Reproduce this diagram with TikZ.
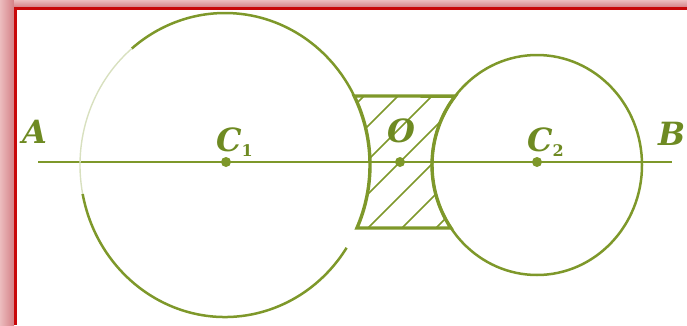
\documentclass[tikz,border=0pt]{standalone}
\usepackage{fontspec}
\newfontfamily\labfont{DejaVu Serif}
\definecolor{ol}{RGB}{126,152,42}
\definecolor{oltext}{RGB}{110,138,34}
\definecolor{pinkdark}{RGB}{212,128,134}
\definecolor{pinklight}{RGB}{236,188,190}
\definecolor{framered}{RGB}{200,8,10}
\newcommand{\mysub}[1]{\raisebox{-5pt}{\fontsize{16}{16}\selectfont\upshape #1}}
\begin{document}
\begin{tikzpicture}[x=1pt,y=1pt,
  circ/.style={draw=ol,line width=2.5pt},
  faint/.style={draw=ol!30,line width=1.4pt},
  lensline/.style={draw=ol,line width=3.4pt,line join=miter},
  hatch/.style={draw=ol,line width=1.7pt},
  axis/.style={draw=ol,line width=2.1pt},
  dot/.style={circle,fill=ol,inner sep=0pt,minimum size=10pt},
  lab/.style={text=oltext,inner sep=0pt,font=\labfont\fontsize{32}{32}\selectfont\bfseries\itshape}]
\useasboundingbox (0,0) rectangle (687,325);
% frame
\shade[left color=pinklight,right color=pinkdark] (0,0) rectangle (14,325);
\shade[top color=pinklight,bottom color=pinkdark] (14,317.7) rectangle (687,325);
\fill[framered] (14,0) rectangle (16.6,317.7);
\fill[framered] (14,315) rectangle (687,317.7);
% axis
\coordinate (A0) at (38,163);
\coordinate (B0) at (672,163);
\draw[axis] (A0) -- (B0);
% left circle (center 225,160; rx 145, ry 152)
\coordinate (L) at (225,160);
\draw[circ] ([shift={(27:145 and 152)}]L) arc[start angle=27,end angle=130,x radius=145,y radius=152];
\draw[faint] ([shift={(130:145 and 152)}]L) arc[start angle=130,end angle=191,x radius=145,y radius=152];
\draw[circ] ([shift={(191:145 and 152)}]L) arc[start angle=191,end angle=327,x radius=145,y radius=152];
% right circle (center 537,160; rx 105, ry 110)
\coordinate (R) at (537,160);
\draw[circ] (R) ellipse[x radius=105,y radius=110];
% lens hatching
\begin{scope}
\clip ([shift={(27:145 and 152)}]L) -- ([shift={(141.2:105 and 110)}]R)
  arc[start angle=141.2,end angle=214.95,x radius=105,y radius=110]
  -- ([shift={(-24.5:145 and 152)}]L)
  arc[start angle=-24.5,end angle=27,x radius=145,y radius=152] -- cycle;
\foreach \k in {-5,...,5}
  \draw[hatch] (300,{63+34*\k}) -- (520,{283+34*\k});
\end{scope}
% lens outline
\draw[lensline] ([shift={(27:145 and 152)}]L) -- ([shift={(141.2:105 and 110)}]R)
  arc[start angle=141.2,end angle=214.95,x radius=105,y radius=110]
  -- ([shift={(-24.5:145 and 152)}]L)
  arc[start angle=-24.5,end angle=27,x radius=145,y radius=152] -- cycle;
% points
\node[dot] (c1) at (226,163) {};
\node[dot] (o) at (400,163) {};
\node[dot] (c2) at (537,163) {};
% labels
\node[lab] (la) at (35,193.5) {A};
\node[lab,anchor=base east] (lb) at (686,180) {B};
\node[lab] (lo) at (401,194.5) {O};
\node[lab,anchor=base west] (lc1) at (216,174) {C\mysub{1}};
\node[lab,anchor=base west] (lc2) at (527,174) {C\mysub{2}};
\end{tikzpicture}
\end{document}
